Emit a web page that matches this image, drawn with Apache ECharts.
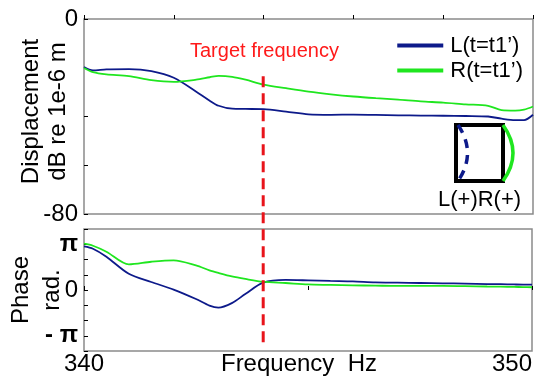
<!DOCTYPE html>
<html>
<head>
<meta charset="utf-8">
<script src="https://cdn.jsdelivr.net/npm/echarts@6/dist/echarts.min.js"></script>
<style>
  html, body { margin: 0; padding: 0; background: #fff; }
  #chart { width: 548px; height: 380px; }
</style>
</head>
<body>
<div id="chart"></div>
<script>
// frequency samples (Hz)
var freq = [340, 340.2, 340.5, 341, 341.5, 342, 342.5, 342.8, 343, 343.3, 343.6, 344, 344.5,
  345, 345.5, 346, 346.5, 347, 347.5, 348, 348.5, 349, 349.3, 349.6, 349.8, 350];
// displacement, dB re 1e-6 m
var dispL = [-19.7, -21.1, -20.7, -20.6, -21.4, -24.1, -29.8, -33.5, -35.6, -36.8, -36.9, -37.0, -38.0,
  -39.1, -39.3, -39.2, -39.3, -39.5, -39.6, -39.7, -39.8, -40.0, -40.9, -41.5, -41.5, -39.3];
var dispR = [-20.1, -21.8, -22.7, -23.4, -25.1, -25.8, -24.9, -23.9, -23.3, -23.7, -24.9, -26.9, -28.4,
  -29.8, -30.9, -31.8, -32.5, -33.1, -33.8, -34.3, -35.0, -35.6, -37.4, -37.6, -37.2, -35.9];
// phase, rad
var phaseL = [2.99, 2.83, 2.28, 1.11, 0.55, 0.03, -0.62, -1.07, -1.21, -0.90, -0.28, 0.50, 0.69,
  0.66, 0.62, 0.59, 0.52, 0.50, 0.48, 0.46, 0.44, 0.41, 0.40, 0.38, 0.37, 0.37];
var phaseR = [3.18, 3.04, 2.63, 1.76, 1.94, 2.04, 1.69, 1.35, 1.17, 0.93, 0.76, 0.57, 0.48,
  0.38, 0.35, 0.32, 0.30, 0.28, 0.28, 0.28, 0.26, 0.24, 0.23, 0.21, 0.20, 0.19];
var seriesNames = ['L(t=t1\u2019)', 'R(t=t1\u2019)'];
var targetFreq = 344;
var targetSpan = [0.026, 0.835];

var blue = '#0d1a8a';
var green = '#1fe61f';
var frame = '#8a8a8a';
var font = 'Liberation Sans, Arial, sans-serif';

function pairs(ys) {
  return freq.map(function (f, i) { return [f, ys[i]]; });
}

var step = Math.PI / 3;

var option = {
  animation: false,
  textStyle: { fontFamily: font, color: '#000' },
  grid: [
    { left: 84, right: 15, top: 19, height: 195, show: true, borderColor: frame, borderWidth: 1.5, outerBoundsMode: 'none', containLabel: false },
    { left: 84, right: 16, top: 229, height: 122, show: true, borderColor: frame, borderWidth: 1.5, outerBoundsMode: 'none', containLabel: false },
    { left: 84, right: 16, top: 19, height: 332, outerBoundsMode: 'none', containLabel: false }
  ],
  legend: {
    orient: 'vertical',
    right: 20,
    top: 29,
    itemWidth: 46,
    itemHeight: 4,
    itemGap: 2,
    icon: 'rect',
    data: seriesNames,
    textStyle: { fontFamily: font, fontSize: 22, color: '#000', padding: [0, 0, 0, 2], lineHeight: 23 }
  },
  xAxis: [
    {
      gridIndex: 0, type: 'value', min: 340, max: 350, interval: 2,
      axisLine: { show: false },
      axisTick: { inside: true, length: 4, lineStyle: { color: '#000' } },
      axisLabel: { show: false },
      splitLine: { show: false }
    },
    {
      gridIndex: 1, type: 'value', min: 340, max: 350, interval: 5,
      axisLine: { show: false },
      axisTick: { inside: true, length: 4, lineStyle: { color: '#000' } },
      axisLabel: {
        fontSize: 24, fontFamily: font, color: '#000', margin: 1,
        alignMinLabel: 'center', alignMaxLabel: 'right',
        formatter: function (v) { return (v === 340 || v === 350) ? String(v) : ''; }
      },
      splitLine: { show: false },
      name: 'Frequency  Hz', nameLocation: 'middle', nameGap: 1, nameMoveOverlap: false,
      nameTextStyle: { fontSize: 24, fontFamily: font, color: '#000', padding: [0, 18, 0, 0], verticalAlign: 'top' }
    },
    { gridIndex: 2, type: 'value', min: 340, max: 350, show: false }
  ],
  yAxis: [
    {
      gridIndex: 0, type: 'value', min: -80, max: 0, interval: 20,
      axisLine: { show: false },
      axisTick: { inside: true, length: 4, lineStyle: { color: '#000' } },
      axisLabel: {
        fontSize: 24, fontFamily: font, color: '#000', margin: 6,
        formatter: function (v) { return (v === 0 || v === -80) ? String(v) : ''; }
      },
      splitLine: { show: false },
      name: 'Displacement\ndB re 1e-6 m', nameLocation: 'middle', nameRotate: 90, nameGap: 12, nameMoveOverlap: false,
      nameTextStyle: { fontSize: 24, fontFamily: font, color: '#000', lineHeight: 27, padding: [0, 0, 0, 10] }
    },
    {
      gridIndex: 1, type: 'value', min: -4 * step, max: 4 * step, interval: step,
      axisLine: { show: false },
      axisTick: { inside: true, length: 4, lineStyle: { color: '#000' } },
      axisLabel: {
        fontSize: 24, fontFamily: font, color: '#000', margin: 6, fontWeight: 'bold',
        formatter: function (v) {
          if (Math.abs(v - Math.PI) < 0.02) return '\u03c0';
          if (Math.abs(v + Math.PI) < 0.02) return '- \u03c0';
          if (Math.abs(v) < 0.02) return '{n|0}';
          return '';
        },
        rich: { n: { fontSize: 24, fontWeight: 'normal', fontFamily: font } }
      },
      splitLine: { show: false },
      name: 'Phase\nrad.', nameLocation: 'middle', nameRotate: 90, nameGap: 16, nameMoveOverlap: false,
      nameTextStyle: { fontSize: 24, fontFamily: font, color: '#000', lineHeight: 31 }
    },
    { gridIndex: 2, type: 'value', min: 0, max: 1, show: false }
  ],
  series: [
    {
      name: seriesNames[0], type: 'line', xAxisIndex: 0, yAxisIndex: 0, symbol: 'none', smooth: 0.3,
      data: pairs(dispL), lineStyle: { color: blue, width: 1.8 }, itemStyle: { color: blue }
    },
    {
      name: seriesNames[1], type: 'line', xAxisIndex: 0, yAxisIndex: 0, symbol: 'none', smooth: 0.3,
      data: pairs(dispR), lineStyle: { color: green, width: 1.8 }, itemStyle: { color: green }
    },
    {
      name: seriesNames[0], type: 'line', xAxisIndex: 1, yAxisIndex: 1, symbol: 'none', smooth: 0.3,
      data: pairs(phaseL), lineStyle: { color: blue, width: 1.8 }, itemStyle: { color: blue }
    },
    {
      name: seriesNames[1], type: 'line', xAxisIndex: 1, yAxisIndex: 1, symbol: 'none', smooth: 0.3,
      data: pairs(phaseR), lineStyle: { color: green, width: 1.8 }, itemStyle: { color: green }
    },
    {
      name: 'target', type: 'line', xAxisIndex: 2, yAxisIndex: 2, symbol: 'none', z: 5,
      data: [[targetFreq, targetSpan[0]], [targetFreq, targetSpan[1]]],
      lineStyle: { color: '#e8141b', width: 3, type: [11, 6] }
    }
  ],
  graphic: [
    {
      type: 'text', left: 190, top: 41,
      style: { text: 'Target frequency', fill: '#ff1a1a', font: '20px ' + font }
    },
    {
      type: 'rect', shape: { x: 456, y: 125, width: 47, height: 56 },
      style: { fill: 'none', stroke: '#000', lineWidth: 4 }, z: 10
    },
    {
      type: 'bezierCurve',
      shape: { x1: 458, y1: 125, x2: 458, y2: 181, cpx1: 477, cpy1: 153 },
      style: { fill: 'none', stroke: blue, lineWidth: 3.5, lineDash: [9, 7] }, z: 11
    },
    {
      type: 'bezierCurve',
      shape: { x1: 503, y1: 125, x2: 503, y2: 181, cpx1: 523, cpy1: 153 },
      style: { fill: 'none', stroke: green, lineWidth: 3.5 }, z: 11
    },
    {
      type: 'text', left: 438, top: 189,
      style: { text: 'L(+)R(+)', fill: '#000', font: '22px ' + font }
    }
  ]
};

var chart = echarts.init(document.getElementById('chart'));
chart.setOption(option);
</script>
</body>
</html>
